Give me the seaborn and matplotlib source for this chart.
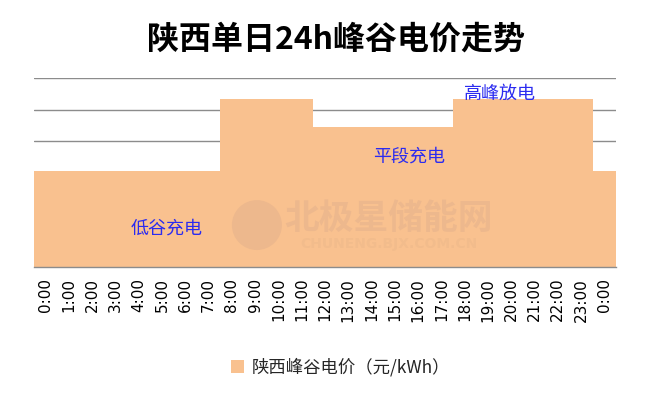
import numpy as np
import pandas as pd
import matplotlib
matplotlib.use('Agg')
import matplotlib.pyplot as plt
import seaborn as sns
from matplotlib.patches import Ellipse

# --- dados ---
horas = ['0:00', '1:00', '2:00', '3:00', '4:00', '5:00', '6:00', '7:00',
         '8:00', '9:00', '10:00', '11:00', '12:00', '13:00', '14:00', '15:00',
         '16:00', '17:00', '18:00', '19:00', '20:00', '21:00', '22:00', '23:00', '0:00']
precos = [0.306, 0.306, 0.306, 0.306, 0.306, 0.306, 0.306, 0.306,
          0.534, 0.534, 0.534, 0.534, 0.445, 0.445, 0.445, 0.445,
          0.445, 0.445, 0.534, 0.534, 0.534, 0.534, 0.534, 0.534, 0.306]
serie = '陕西峰谷电价（元/kWh）'
titulo = '陕西单日24h峰谷电价走势'
anotacoes = [('低谷充电', 5.2, 0.123), ('平段充电', 15.6, 0.350), ('高峰放电', 19.5, 0.552)]

COR_BARRA = '#F9C18F'
COR_GRADE = '#8C8C8C'

df = pd.DataFrame({'idx': range(len(horas)), 'preco': precos, 'serie': serie})

sns.set_style('white')
plt.rcParams['font.family'] = ['Noto Sans CJK SC', 'DejaVu Sans']

fig = plt.figure(figsize=(6.72, 3.97), dpi=100)
ax = fig.add_axes([34 / 672, 130.3 / 397, 582 / 672, 188.4 / 397])

sns.barplot(data=df, x='idx', y='preco', hue='serie', palette=[COR_BARRA],
            width=1.0, saturation=1, ax=ax, linewidth=0, zorder=2)

ax.set_xlim(-0.5, len(horas) - 0.5)
ax.set_ylim(0, 0.6)
ax.set_yticks(np.arange(0, 0.61, 0.1))
ax.yaxis.grid(True, color=COR_GRADE, linewidth=1)
ax.set_axisbelow(True)
ax.tick_params(axis='y', left=False, labelleft=False)

for s in ['left', 'right', 'top']:
    ax.spines[s].set_visible(False)
ax.spines['bottom'].set_color(COR_GRADE)
ax.spines['bottom'].set_linewidth(1)
ax.spines['bottom'].set_zorder(3)

ax.set_xticks(range(len(horas)))
ax.set_xticklabels(horas, rotation=90, fontsize=11, family='DejaVu Sans',
                   va='top', color='black')
ax.set_xticks(np.arange(-0.5, len(horas), 1), minor=True)
ax.tick_params(axis='x', which='major', length=0, pad=8)
ax.tick_params(axis='x', which='minor', length=5, color=COR_GRADE, width=1, direction='out')
ax.set_xlabel('')
ax.set_ylabel('')

# marca d'água
ax.add_patch(Ellipse((0.383, 0.221), 0.086, 0.265, transform=ax.transAxes,
                     color='#EDB88D', zorder=3, linewidth=0))
ax.text(0.61, 0.257, '北极星储能网', transform=ax.transAxes, ha='center', va='center',
        fontsize=25, fontweight='bold', style='italic', color='#EDB88D', zorder=3)
ax.text(0.61, 0.120, 'CHUNENG.BJX.COM.CN', transform=ax.transAxes, ha='center', va='center',
        fontsize=10, fontweight='bold', color='#F2BC8C', family='DejaVu Sans', zorder=3)

for txt, x, y in anotacoes:
    ax.text(x, y, txt, ha='center', va='center', fontsize=13, color='#2B2BF0', zorder=4)

fig.text(0.5, 1 - 40 / 397, titulo, ha='center', va='center', fontsize=23,
         fontweight='bold', color='black')

handles, labels = ax.get_legend_handles_labels()
ax.legend(handles, labels, loc='center', bbox_to_anchor=(0.507, 1 - 367 / 397),
          bbox_transform=fig.transFigure, frameon=False, fontsize=12.5,
          handlelength=0.75, handleheight=0.75, handletextpad=0.4)

fig.savefig('out.png', dpi=100)
